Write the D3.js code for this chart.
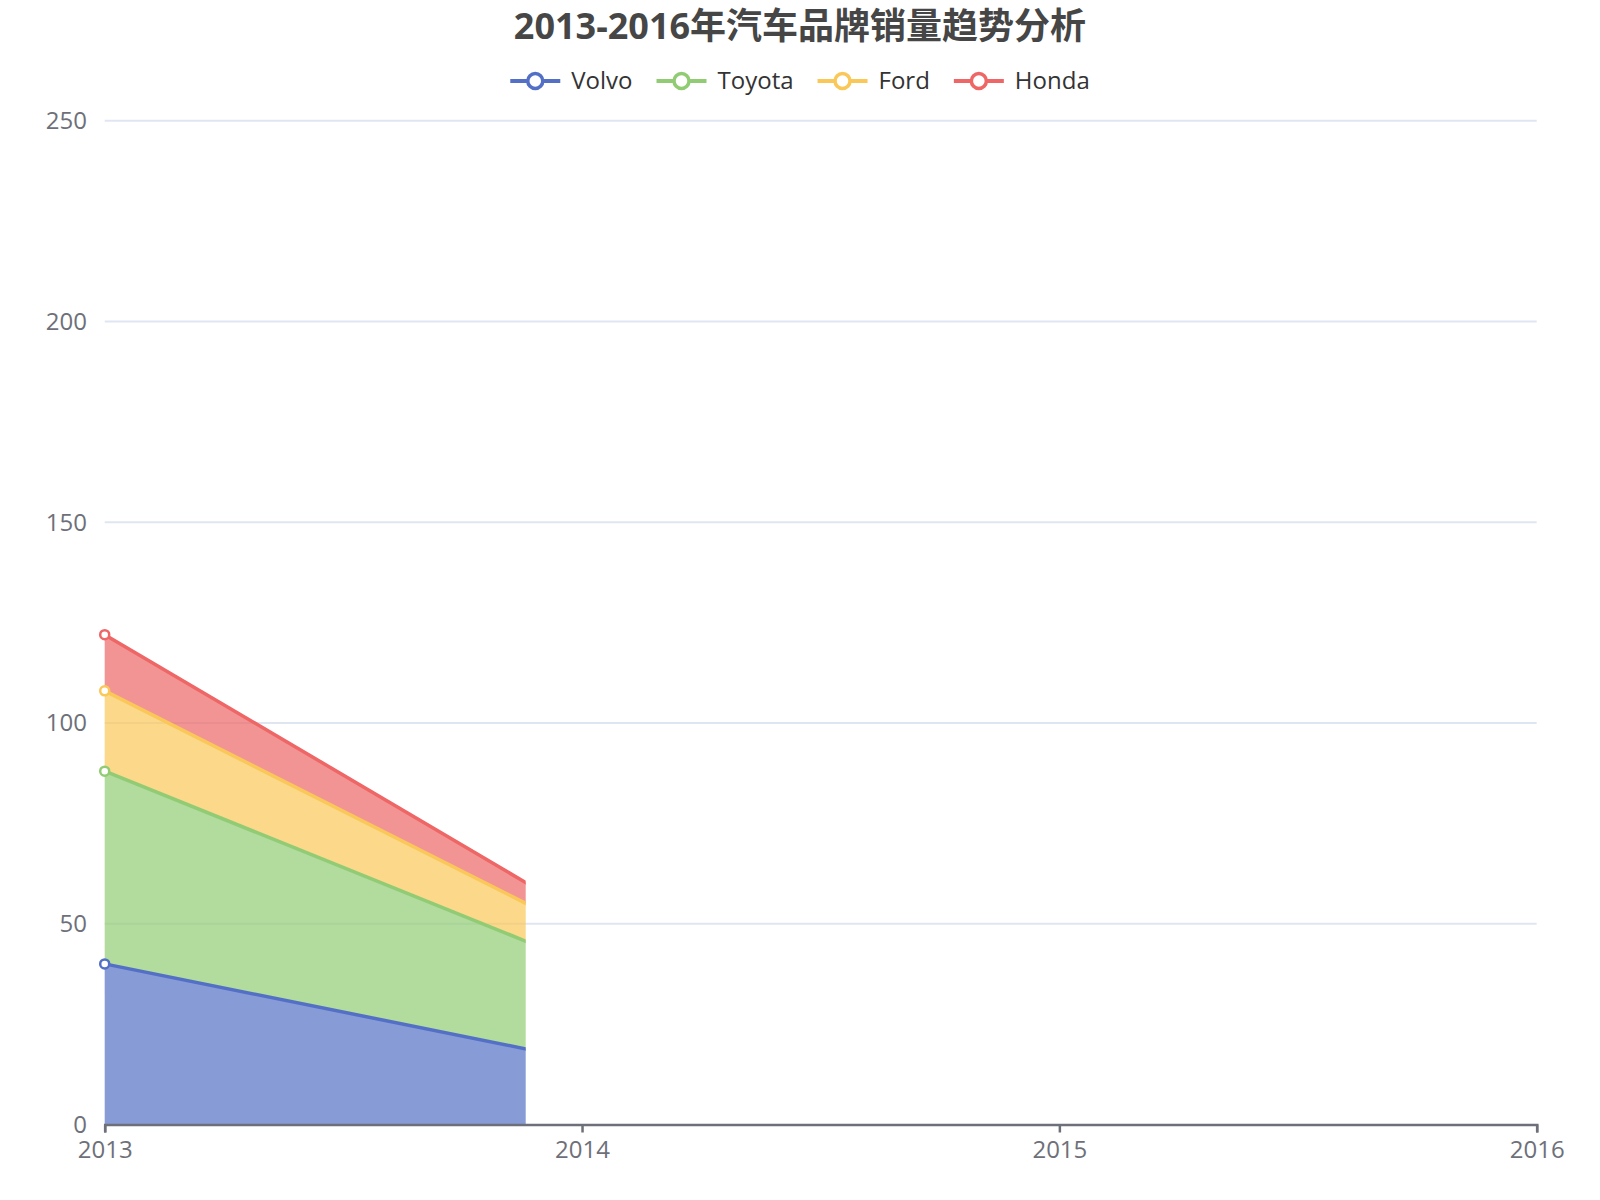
<!DOCTYPE html>
<html>
<head>
<meta charset="utf-8">
<script src="https://cdn.jsdelivr.net/npm/d3@7/dist/d3.min.js"></script>
<style>
  body { margin: 0; background: #fff; }
  text { font-family: 'Open Sans', 'Noto Sans CJK SC', sans-serif; }
</style>
</head>
<body>
<script>
// chart data (picture was captured while the area animation was still running,
// only 2013 -> part of 2014 is visible)
var years = ['2013', '2014', '2015', '2016'];
var brands = ['Volvo', 'Toyota', 'Ford', 'Honda'];
var volvo = [40, 16];
var toyota = [48, 24];
var ford = [20, 8];
var honda = [14, 4];
var yTicks = [0, 50, 100, 150, 200, 250];
var colors = ['#5470c6', '#91cc75', '#fac858', '#ee6666'];
var revealFraction = 0.294;

var width = 1600;
var height = 1200;
var plotLeft = 104.7;
var plotRight = 1536.7;
var plotTop = 120.7;
var plotBottom = 1124.5;

var svg = d3.select('body')
  .append('svg')
  .attr('width', width)
  .attr('height', height);

var x = d3.scalePoint().domain(years).range([plotLeft, plotRight]);
var y = d3.scaleLinear().domain([0, 250]).range([plotBottom, plotTop]);

// rows for d3.stack
var rows = volvo.map(function(v, i) {
  return { year: years[i], Volvo: volvo[i], Toyota: toyota[i], Ford: ford[i], Honda: honda[i] };
});
var stacked = d3.stack().keys(brands)(rows);

// grid lines
svg.append('g')
  .selectAll('line')
  .data(yTicks.filter(function(t) { return t > 0; }))
  .enter().append('line')
  .attr('x1', plotLeft)
  .attr('x2', plotRight)
  .attr('y1', function(d) { return y(d); })
  .attr('y2', function(d) { return y(d); })
  .style('stroke', '#e0e6f1')
  .style('stroke-width', 2);

// y labels
svg.append('g')
  .selectAll('text')
  .data(yTicks)
  .enter().append('text')
  .attr('x', 87)
  .attr('y', function(d) { return y(d); })
  .attr('dy', '0.35em')
  .attr('text-anchor', 'end')
  .style('font-size', '24px')
  .style('fill', '#6e7079')
  .text(function(d) { return d; });

// clip for the partly drawn series
svg.append('clipPath')
  .attr('id', 'reveal')
  .append('rect')
  .attr('x', plotLeft - 10)
  .attr('y', 0)
  .attr('width', 10 + (plotRight - plotLeft) * revealFraction)
  .attr('height', height);

var area = d3.area()
  .x(function(d) { return x(d.data.year); })
  .y0(function(d) { return y(d[0]); })
  .y1(function(d) { return y(d[1]); });

var line = d3.line()
  .x(function(d) { return x(d.data.year); })
  .y(function(d) { return y(d[1]); });

var series = svg.append('g').attr('clip-path', 'url(#reveal)');

stacked.forEach(function(s, i) {
  series.append('path')
    .datum(s)
    .attr('d', area)
    .style('fill', colors[i])
    .style('fill-opacity', 0.7);
});
stacked.forEach(function(s, i) {
  series.append('path')
    .datum(s)
    .attr('d', line)
    .style('fill', 'none')
    .style('stroke', colors[i])
    .style('stroke-width', 3.5)
    .style('stroke-linejoin', 'round');
});

// x axis
var xAxis = d3.axisBottom(x).tickSize(8).tickPadding(8);
var xg = svg.append('g')
  .attr('transform', 'translate(0,' + plotBottom + ')')
  .call(xAxis);
xg.select('.domain').style('stroke', '#6e7079').style('stroke-width', 2.5);
xg.selectAll('.tick line').style('stroke', '#6e7079').style('stroke-width', 2.5);
xg.selectAll('.tick text')
  .style('font-size', '24px')
  .style('font-family', "'Open Sans', sans-serif")
  .style('fill', '#6e7079');

// symbols that were already drawn
var revealX = plotLeft + (plotRight - plotLeft) * revealFraction;
stacked.forEach(function(s, i) {
  svg.append('g')
    .selectAll('circle')
    .data(s.filter(function(d) { return x(d.data.year) <= revealX; }))
    .enter().append('circle')
    .attr('cx', function(d) { return x(d.data.year); })
    .attr('cy', function(d) { return y(d[1]); })
    .attr('r', 4.5)
    .style('fill', '#fff')
    .style('stroke', colors[i])
    .style('stroke-width', 2.5);
});

// title
svg.append('text')
  .attr('x', 800)
  .attr('y', 39)
  .attr('text-anchor', 'middle')
  .style('font-size', '36px')
  .style('font-weight', 'bold')
  .style('fill', '#464646')
  .text('2013-2016年汽车品牌销量趋势分析');

// legend
var legend = svg.append('g');
var cursor = 0;
brands.forEach(function(name, i) {
  var item = legend.append('g').attr('transform', 'translate(' + cursor + ',0)');
  item.append('line')
    .attr('x1', 0).attr('x2', 50)
    .attr('y1', 81).attr('y2', 81)
    .style('stroke', colors[i])
    .style('stroke-width', 4);
  item.append('circle')
    .attr('cx', 25).attr('cy', 81).attr('r', 7.5)
    .style('fill', '#fff')
    .style('stroke', colors[i])
    .style('stroke-width', 3.5);
  var label = item.append('text')
    .attr('x', 61)
    .attr('y', 81)
    .attr('dy', '0.35em')
    .style('font-size', '24px')
    .style('fill', '#333')
    .text(name);
  cursor += 61 + label.node().getComputedTextLength() + 24;
});
var legendWidth = cursor - 24;
legend.attr('transform', 'translate(' + (800 - legendWidth / 2) + ',0)');
</script>
</body>
</html>
